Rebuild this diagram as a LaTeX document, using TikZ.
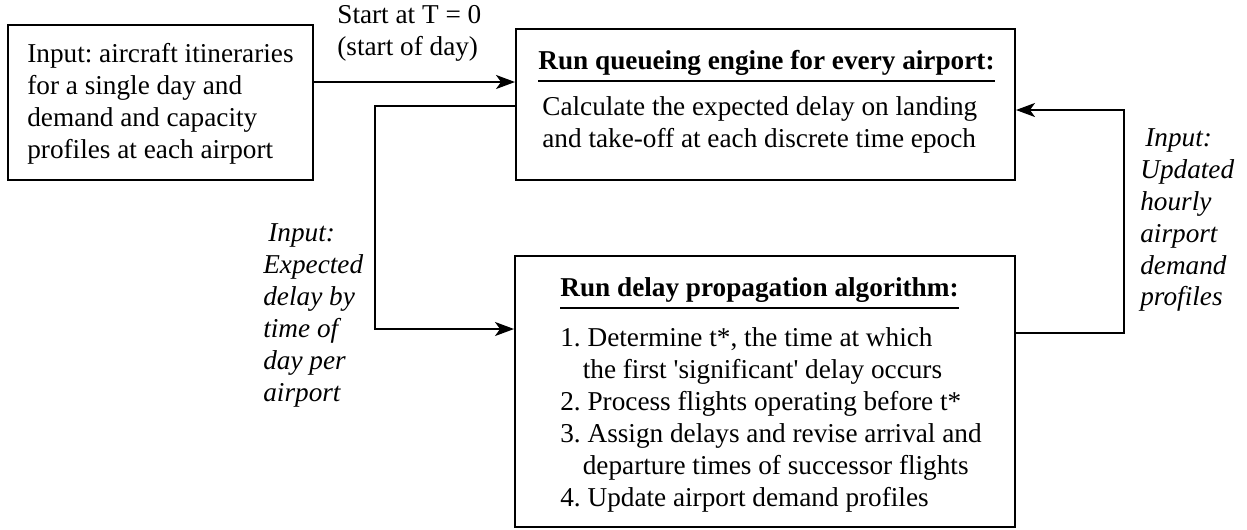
\documentclass[tikz,border=0pt]{standalone}
\usepackage{fontspec}
\setmainfont{Liberation Serif}
\frenchspacing
\usetikzlibrary{arrows.meta}

\begin{document}
\begin{tikzpicture}[
  box/.style={draw, line width=1.1pt, inner sep=0pt},
  txt/.style={anchor=west, align=left, inner sep=0pt, font=\fontsize{15.5}{18.2}\selectfont},
  lbl/.style={txt, font=\fontsize{15.5}{18.2}\selectfont\itshape},
  flow/.style={line width=1.1pt, -{Stealth[length=0.38cm,width=0.28cm,inset=0.1cm]}}
]
  \useasboundingbox (0,0) rectangle (24.94,-10.58);

  % the three boxes
  \node[box, minimum width=6.1cm, minimum height=3.1cm] (input) at (3.21,-2.05) {};
  \node[box, minimum width=9.98cm, minimum height=3.02cm] (queue) at (15.31,-2.09) {};
  \node[box, minimum width=10cm, minimum height=5.42cm] (propagate) at (15.3,-7.83) {};

  \node[txt] (inputtext) at (0.54,-2.08) {Input: aircraft itineraries\\for a single day and\\demand and capacity\\profiles at each airport};

  \node[txt] (queuetitle) at (10.76,-1.26) {\textbf{Run queueing engine for every airport:}};
  \draw[line width=1.1pt] ([yshift=-0.1cm]queuetitle.south west) -- ([yshift=-0.1cm]queuetitle.south east);
  \node[txt] (queuetext) at (10.84,-2.5) {Calculate the expected delay on landing\\and take-off at each discrete time epoch};

  \node[txt] (proptitle) at (11.2,-5.8) {\textbf{Run delay propagation algorithm:}};
  \draw[line width=1.1pt] ([yshift=-0.1cm]proptitle.south west) -- ([yshift=-0.1cm]proptitle.south east);
  \node[txt] (proptext) at (11.2,-8.4) {1. Determine t*, the time at which\\
    \hspace*{0.45cm}the first \textquotesingle significant\textquotesingle\ delay occurs\\
    2. Process flights operating before t*\\
    3. Assign delays and revise arrival and\\
    \hspace*{0.45cm}departure times of successor flights\\
    4. Update airport demand profiles};

  % connectors
  \coordinate (startrow) at (0,-1.64);
  \coordinate (downrow) at (0,-2.12);
  \coordinate (leftcol) at (7.5,0);
  \coordinate (inrow) at (0,-6.58);
  \coordinate (backrow) at (0,-6.66);
  \coordinate (rightcol) at (22.48,0);
  \coordinate (uprow) at (0,-2.2);

  \draw[flow] (input.east |- startrow) -- (queue.west |- startrow);
  \draw[flow] (queue.west |- downrow) -| (leftcol |- inrow) -- (propagate.west |- inrow);
  \draw[flow] (propagate.east |- backrow) -| (rightcol |- uprow) -- (queue.east |- uprow);

  \node[txt] (startlabel) at (6.74,-0.66) {Start at T = 0\\(start of day)};
  \node[lbl] (leftlabel) at (5.26,-6.31) {\hspace*{0.1cm}Input:\\Expected\\delay by\\time of\\day per\\airport};
  \node[lbl] (rightlabel) at (22.8,-4.4) {\hspace*{0.1cm}Input:\\Updated\\hourly\\airport\\demand\\profiles};
\end{tikzpicture}
\end{document}
